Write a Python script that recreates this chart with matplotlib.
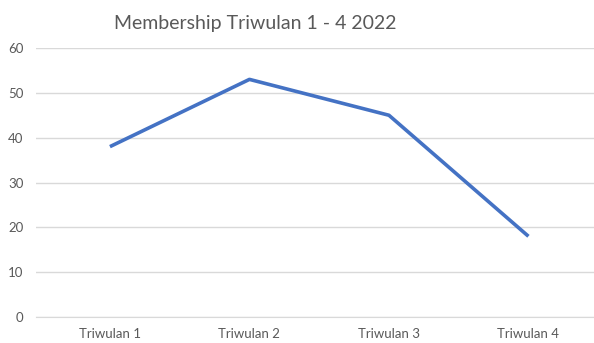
import matplotlib
matplotlib.use("Agg")
import matplotlib.pyplot as plt

categories = ["Triwulan 1", "Triwulan 2", "Triwulan 3", "Triwulan 4"]
members = [38, 53, 45, 18]

plt.rcParams["font.family"] = ["Lato", "DejaVu Sans"]
text_color = "#595959"

fig = plt.figure(figsize=(5.94, 3.43), dpi=100)
ax = fig.add_axes([36 / 594, 1 - 317 / 343, 1 - 36 / 594, (317 - 48) / 343])

x = list(range(len(categories)))
ax.plot(x, members, color="#4472C4", linewidth=2.6, solid_capstyle="butt")

ax.set_xlim(-0.53, 3.47)
ax.set_ylim(0, 60)
ax.set_yticks(range(0, 61, 10))
ax.set_xticks(x)
ax.set_xticklabels(categories)
ax.yaxis.grid(True, color="#D9D9D9", linewidth=1)
ax.set_axisbelow(True)
for side in ("top", "right", "left"):
    ax.spines[side].set_visible(False)
ax.spines["bottom"].set_color("#D9D9D9")
ax.tick_params(axis="both", length=0, colors=text_color, labelsize=9.5)
ax.tick_params(axis="y", pad=9)
ax.tick_params(axis="x", pad=8)

fig.text(0.43, 1 - 23 / 343, "Membership Triwulan 1 - 4 2022", ha="center", va="center",
         fontsize=14, color=text_color)

fig.savefig("out.png", dpi=100)
